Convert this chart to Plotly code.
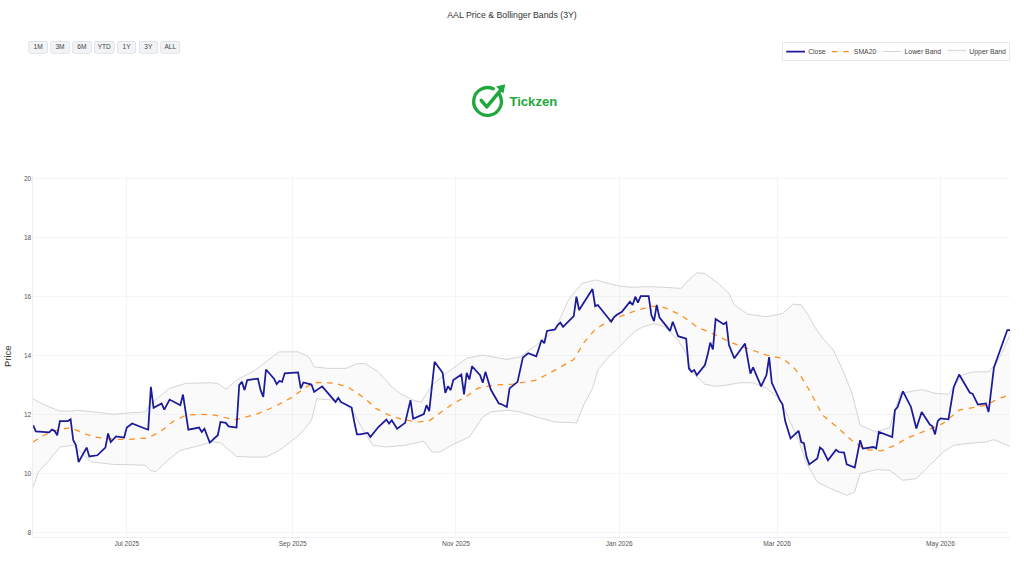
import base64
import plotly.graph_objects as go

# ---------------- data ----------------
close_dates = [
    "2025-05-27", "2025-05-28", "2025-06-02", "2025-06-03", "2025-06-04", "2025-06-05", "2025-06-06",
    "2025-06-09", "2025-06-10", "2025-06-11", "2025-06-12", "2025-06-13", "2025-06-16", "2025-06-17",
    "2025-06-20", "2025-06-23", "2025-06-24", "2025-06-25", "2025-06-27", "2025-06-30",
    "2025-07-01", "2025-07-03", "2025-07-08", "2025-07-09", "2025-07-10", "2025-07-11", "2025-07-14",
    "2025-07-15", "2025-07-17", "2025-07-21", "2025-07-22", "2025-07-24", "2025-07-28", "2025-07-29",
    "2025-07-30", "2025-08-01", "2025-08-04", "2025-08-05", "2025-08-07", "2025-08-08",
    "2025-08-11", "2025-08-12", "2025-08-13", "2025-08-14", "2025-08-15", "2025-08-19", "2025-08-20",
    "2025-08-21", "2025-08-22", "2025-08-25", "2025-08-26", "2025-08-27", "2025-08-28", "2025-08-29",
    "2025-09-03", "2025-09-04", "2025-09-05", "2025-09-08", "2025-09-09", "2025-09-10", "2025-09-12",
    "2025-09-17", "2025-09-18", "2025-09-19", "2025-09-23", "2025-09-24", "2025-09-25", "2025-09-26",
    "2025-09-29", "2025-09-30", "2025-10-03", "2025-10-06", "2025-10-07", "2025-10-08", "2025-10-10",
    "2025-10-13", "2025-10-15", "2025-10-16", "2025-10-17", "2025-10-20", "2025-10-21", "2025-10-22",
    "2025-10-24",
    "2025-10-27", "2025-10-28", "2025-10-29", "2025-10-30", "2025-10-31", "2025-11-03", "2025-11-04",
    "2025-11-05", "2025-11-06", "2025-11-07", "2025-11-10", "2025-11-11", "2025-11-12", "2025-11-14",
    "2025-11-17", "2025-11-18", "2025-11-20", "2025-11-21", "2025-11-24", "2025-11-26", "2025-11-28",
    "2025-12-01", "2025-12-03", "2025-12-04", "2025-12-05", "2025-12-08", "2025-12-09", "2025-12-10",
    "2025-12-11", "2025-12-15", "2025-12-16", "2025-12-17", "2025-12-22", "2025-12-23", "2025-12-24",
    "2025-12-29", "2025-12-30", "2025-12-31",
    "2026-01-02", "2026-01-05", "2026-01-06", "2026-01-07", "2026-01-08", "2026-01-09", "2026-01-12",
    "2026-01-13", "2026-01-14", "2026-01-15", "2026-01-16", "2026-01-20", "2026-01-21", "2026-01-23",
    "2026-01-26", "2026-01-27", "2026-01-28", "2026-01-29", "2026-01-30", "2026-02-02", "2026-02-03",
    "2026-02-04", "2026-02-05", "2026-02-06", "2026-02-09", "2026-02-10", "2026-02-11", "2026-02-13",
    "2026-02-17", "2026-02-19", "2026-02-20", "2026-02-23", "2026-02-25", "2026-02-26", "2026-02-27",
    "2026-03-02", "2026-03-03", "2026-03-04", "2026-03-06", "2026-03-09", "2026-03-10", "2026-03-11",
    "2026-03-12", "2026-03-13", "2026-03-16", "2026-03-17", "2026-03-18", "2026-03-20", "2026-03-23",
    "2026-03-24", "2026-03-26", "2026-03-27", "2026-03-30", "2026-04-01", "2026-04-02", "2026-04-06",
    "2026-04-07", "2026-04-08", "2026-04-13", "2026-04-14", "2026-04-15", "2026-04-17", "2026-04-20",
    "2026-04-22", "2026-04-24", "2026-04-27", "2026-04-28", "2026-04-29", "2026-04-30", "2026-05-01",
    "2026-05-04", "2026-05-06", "2026-05-08", "2026-05-12", "2026-05-13", "2026-05-15", "2026-05-18",
    "2026-05-19", "2026-05-21", "2026-05-26", "2026-05-27",
]
close_values = [
    11.64, 11.43, 11.40, 11.49, 11.45, 11.30, 11.78,
    11.78, 11.84, 11.13, 10.96, 10.39, 10.88, 10.58,
    10.62, 10.88, 11.36, 11.07, 11.26, 11.22,
    11.56, 11.70, 11.52, 11.49, 12.94, 12.23, 12.38,
    12.17, 12.51, 12.32, 12.68, 11.49, 11.56, 11.41,
    11.52, 11.05, 11.30, 11.75, 11.72, 11.60,
    11.56, 13.00, 13.11, 12.83, 13.17, 13.22, 12.83,
    12.60, 13.53, 13.22, 13.03, 13.14, 13.11, 13.40,
    13.43, 12.89, 13.09, 13.02, 12.77, 12.83, 12.96,
    12.43, 12.57, 12.43, 12.24, 11.75, 11.33, 11.33,
    11.38, 11.24, 11.58, 11.83, 11.70, 11.81, 11.52,
    11.72, 12.49, 11.86, 11.90, 12.02, 12.32, 12.12,
    13.79,
    13.42, 12.74, 12.96, 12.83, 13.17, 13.36, 12.69,
    13.42, 13.19, 13.64, 13.34, 13.08, 13.45, 12.85,
    12.38, 12.35, 12.26, 12.89, 13.11, 13.94, 14.08,
    13.98, 14.53, 14.42, 14.84, 14.89, 15.04, 15.12,
    14.98, 15.34, 16.00, 15.55, 16.26, 15.68, 15.72,
    15.15, 15.30, 15.38,
    15.49, 15.83, 15.72, 16.00, 15.80, 16.02, 16.02,
    15.38, 15.17, 15.72, 15.30, 14.84, 15.15, 14.66,
    14.58, 13.57, 13.45, 13.51, 13.34, 13.68, 14.02,
    14.44, 14.21, 15.24, 15.07, 15.13, 14.36, 13.91,
    14.41, 13.39, 13.60, 12.96, 13.34, 13.95, 13.08,
    12.49, 12.35, 11.78, 11.19, 11.45, 11.07, 11.03,
    10.56, 10.31, 10.51, 10.88, 10.81, 10.45, 10.81,
    10.73, 10.71, 10.31, 10.20, 11.13, 10.85, 10.90,
    10.85, 11.41, 11.24, 12.15, 12.26, 12.79, 12.26,
    11.53, 12.09, 11.67, 11.60, 11.33, 11.78, 11.87,
    11.84, 12.94, 13.36, 12.74, 12.71, 12.34, 12.38,
    12.09, 13.60, 14.87, 14.87,
]

sma_dates = [
    "2025-05-27", "2025-05-31", "2025-06-04", "2025-06-10", "2025-06-15", "2025-06-19", "2025-06-26",
    "2025-07-02", "2025-07-09", "2025-07-14", "2025-07-18", "2025-07-23", "2025-07-29", "2025-08-03",
    "2025-08-08", "2025-08-11", "2025-08-19", "2025-08-25", "2025-09-01", "2025-09-06", "2025-09-10",
    "2025-09-17", "2025-09-22", "2025-09-28", "2025-10-02", "2025-10-07", "2025-10-12", "2025-10-18",
    "2025-10-22", "2025-10-26", "2025-10-31", "2025-11-05", "2025-11-09", "2025-11-15", "2025-11-22",
    "2025-12-01", "2025-12-08", "2025-12-15", "2025-12-19", "2025-12-23", "2025-12-27", "2025-12-31",
    "2026-01-07", "2026-01-13", "2026-01-18", "2026-01-24", "2026-01-30", "2026-02-06", "2026-02-12",
    "2026-02-18", "2026-02-25", "2026-03-03", "2026-03-07", "2026-03-10", "2026-03-13", "2026-03-15",
    "2026-03-18", "2026-03-24", "2026-03-29", "2026-04-03", "2026-04-09", "2026-04-14", "2026-04-19",
    "2026-04-26", "2026-05-02", "2026-05-08", "2026-05-15", "2026-05-18", "2026-05-22", "2026-05-27",
]
sma_values = [
    11.07, 11.30, 11.45, 11.56, 11.36, 11.24, 11.16,
    11.16, 11.21, 11.45, 11.75, 11.98, 12.01, 11.98,
    11.87, 11.83, 12.03, 12.26, 12.60, 12.94, 13.09,
    13.06, 12.91, 12.55, 12.21, 11.98, 11.83, 11.75,
    11.79, 12.06, 12.38, 12.62, 12.89, 13.00, 13.03,
    13.17, 13.51, 13.87, 14.47, 14.89, 15.12, 15.29,
    15.52, 15.68, 15.63, 15.38, 14.98, 14.70, 14.44,
    14.24, 14.02, 13.91, 13.62, 13.28, 12.83, 12.49,
    11.98, 11.53, 11.11, 10.81, 10.77, 10.96, 11.22,
    11.47, 11.70, 12.15, 12.26, 12.32, 12.51, 12.68,
]

lower_dates = [
    "2025-05-27", "2025-05-29", "2025-06-02", "2025-06-06", "2025-06-11", "2025-06-15", "2025-06-18",
    "2025-06-26", "2025-07-02", "2025-07-08", "2025-07-10", "2025-07-12", "2025-07-16", "2025-07-21",
    "2025-07-27", "2025-08-02", "2025-08-05", "2025-08-11", "2025-08-16", "2025-08-22", "2025-08-27",
    "2025-09-01", "2025-09-04", "2025-09-08", "2025-09-10", "2025-09-16", "2025-09-21", "2025-09-24",
    "2025-09-28", "2025-10-01", "2025-10-06", "2025-10-13", "2025-10-20", "2025-10-23", "2025-10-26",
    "2025-10-31", "2025-11-06", "2025-11-11", "2025-11-14", "2025-11-20", "2025-11-25", "2025-12-01",
    "2025-12-08", "2025-12-16", "2025-12-19", "2025-12-22", "2025-12-24", "2025-12-28", "2025-12-31",
    "2026-01-07", "2026-01-10", "2026-01-14", "2026-01-18", "2026-01-23", "2026-01-26", "2026-01-28",
    "2026-02-02", "2026-02-06", "2026-02-10", "2026-02-15", "2026-02-20", "2026-02-25", "2026-03-02",
    "2026-03-05", "2026-03-09", "2026-03-12", "2026-03-16", "2026-03-21", "2026-03-27", "2026-03-30",
    "2026-04-01", "2026-04-07", "2026-04-12", "2026-04-17", "2026-04-22", "2026-04-27", "2026-05-02",
    "2026-05-06", "2026-05-11", "2026-05-18", "2026-05-21", "2026-05-27",
]
lower_values = [
    9.54, 10.05, 10.45, 10.90, 10.96, 10.62, 10.39,
    10.31, 10.30, 10.28, 10.09, 10.07, 10.43, 10.79,
    10.92, 11.07, 11.05, 10.58, 10.56, 10.56, 10.79,
    11.13, 11.36, 11.81, 12.54, 12.49, 12.32, 12.03,
    11.36, 10.96, 10.90, 10.96, 11.10, 10.73, 10.73,
    10.99, 11.24, 11.92, 12.09, 12.15, 12.09, 11.92,
    11.75, 11.72, 12.38, 12.89, 13.51, 13.96, 14.20,
    14.84, 14.98, 15.09, 14.98, 14.53, 14.08, 13.45,
    13.03, 12.96, 13.00, 13.08, 13.08, 12.89, 12.54,
    11.92, 11.13, 10.35, 9.71, 9.49, 9.26, 9.38,
    10.00, 10.13, 10.11, 9.77, 9.83, 10.28, 10.73,
    10.96, 11.02, 11.07, 11.15, 10.92,
]

upper_dates = [
    "2025-05-27", "2025-05-29", "2025-06-02", "2025-06-06", "2025-06-11", "2025-06-12", "2025-06-19",
    "2025-06-26", "2025-07-02", "2025-07-08", "2025-07-10", "2025-07-17", "2025-07-23", "2025-08-01",
    "2025-08-04", "2025-08-07", "2025-08-11", "2025-08-18", "2025-08-22", "2025-08-27", "2025-09-03",
    "2025-09-07", "2025-09-09", "2025-09-14", "2025-09-21", "2025-09-25", "2025-09-28", "2025-10-03",
    "2025-10-08", "2025-10-11", "2025-10-16", "2025-10-19", "2025-10-23", "2025-10-29", "2025-11-05",
    "2025-11-11", "2025-11-20", "2025-11-25", "2025-12-01", "2025-12-08", "2025-12-13", "2025-12-18",
    "2025-12-23", "2025-12-28", "2025-12-31", "2026-01-05", "2026-01-12", "2026-01-18", "2026-01-24",
    "2026-01-27", "2026-01-30", "2026-02-02", "2026-02-07", "2026-02-11", "2026-02-13", "2026-02-18",
    "2026-02-25", "2026-03-03", "2026-03-07", "2026-03-10", "2026-03-13", "2026-03-15", "2026-03-18",
    "2026-03-22", "2026-03-26", "2026-03-29", "2026-04-01", "2026-04-07", "2026-04-12", "2026-04-16",
    "2026-04-19", "2026-04-24", "2026-04-29", "2026-05-04", "2026-05-09", "2026-05-13", "2026-05-19",
    "2026-05-22", "2026-05-24", "2026-05-27",
]
upper_values = [
    12.54, 12.43, 12.26, 12.12, 12.12, 12.15, 12.09,
    12.01, 12.06, 12.09, 12.38, 12.89, 13.06, 13.08,
    13.06, 12.86, 13.17, 13.51, 13.79, 14.13, 14.13,
    13.96, 13.62, 13.57, 13.57, 13.73, 13.73, 13.45,
    12.94, 12.72, 12.49, 12.42, 13.00, 13.45, 13.91,
    14.02, 13.87, 13.96, 14.36, 14.87, 15.89, 16.45,
    16.57, 16.45, 16.38, 16.32, 16.34, 16.32, 16.28,
    16.57, 16.81, 16.79, 16.45, 16.11, 15.72, 15.41,
    15.32, 15.43, 15.75, 15.72, 15.32, 14.98, 14.59,
    14.19, 13.40, 12.72, 11.64, 11.41, 11.56, 12.72,
    12.77, 12.85, 12.72, 12.69, 13.34, 13.45, 13.45,
    13.75, 14.10, 14.70,
]

y_ticks = [8, 10, 12, 14, 16, 18, 20]

# ---------------- geometry ----------------
# The reference is a plotly chart drawn on a larger canvas and shown scaled
# down; we lay it out on that larger canvas and scale the page to 1024x576.
VIEW_W, VIEW_H = 1024, 576
S = 0.625
W, H = VIEW_W / S, VIEW_H / S
ML, MR, MT, MB = 33, 14, 175, 39          # margins as seen in the 1024x576 view
PW, PH = VIEW_W - ML - MR, VIEW_H - MT - MB


def px_x(x):
    return (x - ML) / PW


def px_y(y):
    return (VIEW_H - MB - y) / PH


FONT = "Arial, 'Liberation Sans', sans-serif"
GREEN = "#1fa83c"

fig = go.Figure()

fig.add_trace(go.Scatter(
    x=lower_dates, y=lower_values, name="Lower Band", mode="lines",
    line=dict(color="#d4d4d4", width=1.6), legendrank=3,
))
fig.add_trace(go.Scatter(
    x=upper_dates, y=upper_values, name="Upper Band", mode="lines",
    line=dict(color="#d4d4d4", width=1.6), fill="tonexty",
    fillcolor="rgba(215,215,215,0.13)", legendrank=4,
))
fig.add_trace(go.Scatter(
    x=sma_dates, y=sma_values, name="SMA20", mode="lines",
    line=dict(color="#ff8c1a", width=2, dash="dash"), legendrank=2,
))
fig.add_trace(go.Scatter(
    x=close_dates, y=close_values, name="Close", mode="lines",
    line=dict(color="#1a1a9a", width=2.8), legendrank=1,
))

# logo icon (no text inside the image; the wordmark is a real text annotation)
svg = (
    '<svg xmlns="http://www.w3.org/2000/svg" viewBox="0 0 40 40" width="40" height="40">'
    '<path d="M 31 14 A 15 15 0 1 1 24 7.5" fill="none" stroke="%s" stroke-width="3.6" stroke-linecap="round"/>'
    '<path d="M 11 20 L 17 27 L 32 9" fill="none" stroke="%s" stroke-width="3.8" '
    'stroke-linecap="round" stroke-linejoin="round"/>'
    '<path d="M 27 5 L 37 2.5 L 35 12.5 Z" fill="%s"/>'
    '</svg>'
) % (GREEN, GREEN, GREEN)
svg_uri = "data:image/svg+xml;base64," + base64.b64encode(svg.encode()).decode()

fig.add_layout_image(dict(
    source=svg_uri, xref="paper", yref="paper",
    x=px_x(471), y=px_y(82), sizex=37 / PW, sizey=37 / PH,
    xanchor="left", yanchor="top", sizing="contain", layer="above",
))
fig.add_annotation(
    text="<b>Tickzen</b>", xref="paper", yref="paper",
    x=px_x(508), y=px_y(101), xanchor="left", yanchor="middle",
    showarrow=False, font=dict(family=FONT, size=21, color=GREEN),
)

fig.update_layout(
    width=W, height=H,
    template="plotly_white",
    font=dict(family=FONT, size=11, color="#444"),
    title=dict(text="AAL Price & Bollinger Bands (3Y)", x=0.5, xanchor="center",
               y=1 - 15 / VIEW_H, yanchor="middle", font=dict(size=14, color="#333")),
    margin=dict(l=ML / S, r=MR / S, t=MT / S, b=MB / S),
    plot_bgcolor="white", paper_bgcolor="white",
    showlegend=True,
    legend=dict(orientation="h", x=1, xanchor="right", y=px_y(42), yanchor="top",
                traceorder="normal",
                bordercolor="#dddddd", borderwidth=1, bgcolor="white",
                font=dict(size=11, color="#444")),
    xaxis=dict(
        type="date", range=["2025-05-27", "2026-05-27"],
        dtick="M2", tickformat="%b %Y", tickfont=dict(size=10.5, color="#555"),
        gridcolor="#eceff4", showline=True, linecolor="#e3e6eb", zeroline=False,
        rangeselector=dict(
            buttons=[
                dict(count=1, label="1M", step="month", stepmode="backward"),
                dict(count=3, label="3M", step="month", stepmode="backward"),
                dict(count=6, label="6M", step="month", stepmode="backward"),
                dict(count=1, label="YTD", step="year", stepmode="todate"),
                dict(count=1, label="1Y", step="year", stepmode="backward"),
                dict(count=3, label="3Y", step="year", stepmode="backward"),
                dict(label="ALL", step="all"),
            ],
            x=px_x(28), xanchor="left", y=px_y(41), yanchor="top",
            bgcolor="#f1f3f6", activecolor="#f1f3f6", bordercolor="#d5d9e0", borderwidth=1,
            font=dict(size=10.5, color="#444"),
        ),
    ),
    yaxis=dict(
        range=[7.83, 20.13], tickvals=y_ticks, tickfont=dict(size=10.5, color="#555"),
        gridcolor="#eceff4", showline=True, linecolor="#e3e6eb", zeroline=False,
        title=dict(text="Price", font=dict(size=15, color="#333"), standoff=16),
    ),
)

post = (
    "var gd = document.getElementById('{plot_id}');"
    "gd.style.transformOrigin = '0 0';"
    "gd.style.transform = 'scale(" + str(S) + ")';"
    "document.documentElement.style.overflow = 'hidden';"
    "document.body.style.overflow = 'hidden';"
    "document.body.style.margin = '0';"
)

fig.write_html("out.html", post_script=post)
